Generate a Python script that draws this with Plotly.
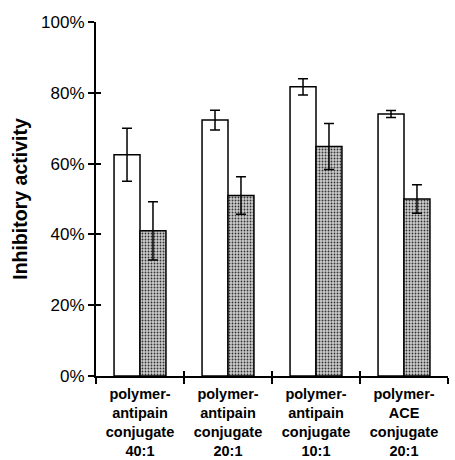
import plotly.graph_objects as go

categories = ["polymer-<br>antipain<br>conjugate<br>40:1",
              "polymer-<br>antipain<br>conjugate<br>20:1",
              "polymer-<br>antipain<br>conjugate<br>10:1",
              "polymer-<br>ACE<br>conjugate<br>20:1"]
white_values = [62.5, 72.3, 81.7, 74.0]
white_errors = [7.5, 2.8, 2.3, 1.0]
grey_values = [41.0, 51.0, 64.8, 50.0]
grey_errors = [8.2, 5.3, 6.5, 4.0]
y_ticks = [0, 20, 40, 60, 80, 100]
y_tick_labels = ["0%", "20%", "40%", "60%", "80%", "100%"]

fig = go.Figure()
fig.add_trace(go.Bar(
    x=categories, y=white_values,
    marker=dict(color="white", line=dict(color="black", width=1.5)),
    error_y=dict(type="data", array=white_errors, visible=True,
                 color="black", thickness=1.5, width=5),
    showlegend=False,
))
fig.add_trace(go.Bar(
    x=categories, y=grey_values,
    marker=dict(color="#c8c8c8", line=dict(color="black", width=1.5),
                pattern=dict(shape=".", fgcolor="#333333", bgcolor="#cccccc",
                             size=3, solidity=0.3, fillmode="replace")),
    error_y=dict(type="data", array=grey_errors, visible=True,
                 color="black", thickness=1.5, width=5),
    showlegend=False,
))
# invisible trace to carry the inner tick axes
fig.add_trace(go.Scatter(x=categories, y=grey_values, xaxis="x2", yaxis="y2",
                         mode="markers", marker=dict(opacity=0), showlegend=False,
                         hoverinfo="skip"))

fig.update_layout(
    width=455, height=460,
    margin=dict(l=96, r=7, t=22, b=84),
    paper_bgcolor="white", plot_bgcolor="white",
    barmode="group", bargap=0.41, bargroupgap=0.0,
    font=dict(family="Arial, Liberation Sans, sans-serif", color="black"),
    xaxis=dict(
        showline=True, linecolor="black", linewidth=2,
        ticks="outside", ticklen=6, tickwidth=2, tickcolor="black",
        tickson="boundaries", automargin=False, ticklabelstandoff=4,
        tickfont=dict(size=14.5, weight="bold"),
        range=[-0.5, 3.5],
    ),
    xaxis2=dict(
        overlaying="x", matches="x", range=[-0.5, 3.5],
        showline=False, ticks="inside", ticklen=5, tickwidth=2, tickcolor="black",
        tickson="boundaries", showticklabels=False, showgrid=False,
        side="bottom",
    ),
    yaxis=dict(
        range=[0, 100], automargin=False,
        tickvals=y_ticks, ticktext=y_tick_labels,
        showline=True, linecolor="black", linewidth=2,
        ticks="outside", ticklen=6, tickwidth=2, tickcolor="black",
        showgrid=False, zeroline=False,
        tickfont=dict(size=17),
        title=dict(text="<b>Inhibitory activity</b>", font=dict(size=19.5), standoff=8),
    ),
    yaxis2=dict(
        overlaying="y", range=[0, 100], tickvals=y_ticks,
        showline=False, ticks="inside", ticklen=5, tickwidth=2, tickcolor="black",
        showticklabels=False, showgrid=False, zeroline=False, side="left",
    ),
)
fig.write_html("out.html")
